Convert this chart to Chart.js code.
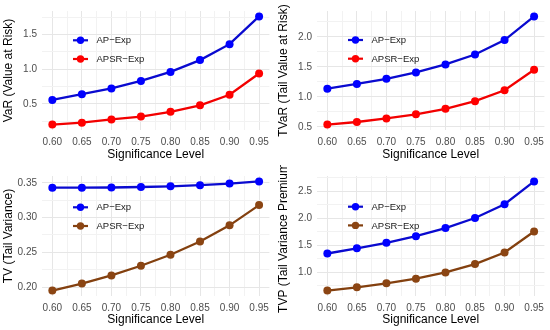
<!DOCTYPE html>
<html><head><meta charset="utf-8">
<script src="https://cdn.jsdelivr.net/npm/chart.js@4.4.0/dist/chart.umd.min.js"></script>
<style>
html,body{margin:0;padding:0;background:#fff;}
#wrap{position:relative;width:550px;height:330px;}
.p{position:absolute;width:275px;height:165px;}
canvas{display:block;}
</style></head><body>
<div id="wrap">
<div class="p" style="left:0;top:0"><canvas id="c1" width="275" height="165"></canvas></div>
<div class="p" style="left:275px;top:0"><canvas id="c2" width="275" height="165"></canvas></div>
<div class="p" style="left:0;top:165px"><canvas id="c3" width="275" height="165"></canvas></div>
<div class="p" style="left:275px;top:165px"><canvas id="c4" width="275" height="165"></canvas></div>
</div>
<script>
const levels = [0.60, 0.65, 0.70, 0.75, 0.80, 0.85, 0.90, 0.95];
const xTickLabels = ['0.60', '0.65', '0.70', '0.75', '0.80', '0.85', '0.90', '0.95'];
const seriesNames = ['AP\u2212Exp', 'APSR\u2212Exp'];

const varAP   = [0.556, 0.639, 0.722, 0.830, 0.960, 1.130, 1.360, 1.760];
const varAPSR = [0.200, 0.228, 0.274, 0.315, 0.385, 0.478, 0.630, 0.936];
const tvarAP   = [1.135, 1.215, 1.300, 1.407, 1.540, 1.705, 1.945, 2.340];
const tvarAPSR = [0.537, 0.580, 0.640, 0.708, 0.800, 0.928, 1.109, 1.450];
const tvAP   = [0.3430, 0.3430, 0.3433, 0.3440, 0.3450, 0.3467, 0.3490, 0.3520];
const tvAPSR = [0.1950, 0.2050, 0.2168, 0.2307, 0.2465, 0.2656, 0.2888, 0.3180];
const tvpAP   = [1.350, 1.446, 1.547, 1.670, 1.820, 2.005, 2.260, 2.680];
const tvpAPSR = [0.666, 0.725, 0.800, 0.886, 1.000, 1.154, 1.368, 1.755];

const varYTicks  = ['0.5', '1.0', '1.5'];
const tvarYTicks = ['0.5', '1.0', '1.5', '2.0'];
const tvYTicks   = ['0.20', '0.25', '0.30', '0.35'];
const tvpYTicks  = ['1.0', '1.5', '2.0', '2.5'];

const FONT = '"Liberation Sans", Arial, Helvetica, sans-serif';

function tickList(labels, lo, hi) {
  const maj = labels.map(Number);
  const step = maj[1] - maj[0];
  const out = [];
  const first = maj[0] - step / 2;
  for (let i = 0; i < maj.length * 2 + 1; i++) {
    const v = first + i * step / 2;
    if (v < lo - 1e-9 || v > hi + 1e-9) continue;
    const isMaj = i % 2 === 1;
    out.push({ value: v, mj: isMaj, lab: isMaj ? labels[(i - 1) / 2] : '' });
  }
  return out;
}

const ggLegend = {
  id: 'ggLegend',
  afterDraw(chart, args, opts) {
    const ctx = chart.ctx;
    chart.data.datasets.forEach((ds, i) => {
      const y = opts.y0 + i * opts.dy;
      ctx.save();
      ctx.strokeStyle = ds.borderColor; ctx.lineWidth = 2.2;
      ctx.beginPath(); ctx.moveTo(73, y); ctx.lineTo(88, y); ctx.stroke();
      ctx.fillStyle = ds.pointBackgroundColor;
      ctx.beginPath(); ctx.arc(80.5, y, 3.7, 0, Math.PI * 2); ctx.fill();
      ctx.fillStyle = '#1A1A1A';
      ctx.font = '9.5px ' + FONT;
      ctx.textBaseline = 'middle';
      ctx.fillText(ds.label, 96.5, y + 0.5);
      ctx.restore();
    });
  }
};

function makeChart(id, yTitle, ap, apsr, apsrPoint, apsrLine, yLabels, padTop, xHeight, legendY0) {
  const all = ap.concat(apsr);
  const lo = Math.min(...all), hi = Math.max(...all), r = hi - lo;
  const yMin = lo - 0.05 * r, yMax = hi + 0.05 * r;
  const xr = levels[levels.length - 1] - levels[0];
  const xMin = levels[0] - 0.05 * xr, xMax = levels[levels.length - 1] + 0.05 * xr;
  const yT = tickList(yLabels, yMin, yMax);
  const xT = tickList(xTickLabels, xMin, xMax);
  const gridColor = c => (c.tick && c.tick.mj) ? '#E6E6E6' : '#F2F2F2';
  new Chart(document.getElementById(id), {
    type: 'line',
    data: {
      datasets: [
        { label: seriesNames[0], data: levels.map((x, i) => ({ x, y: ap[i] })),
          borderColor: '#0A0ACF', pointBackgroundColor: '#0000FF', backgroundColor: '#0000FF',
          borderWidth: 2.3, pointRadius: 4, pointBorderWidth: 0, pointHoverRadius: 4, tension: 0 },
        { label: seriesNames[1], data: levels.map((x, i) => ({ x, y: apsr[i] })),
          borderColor: apsrLine, pointBackgroundColor: apsrPoint, backgroundColor: apsrPoint,
          borderWidth: 2.3, pointRadius: 4, pointBorderWidth: 0, pointHoverRadius: 4, tension: 0 }
      ]
    },
    options: {
      responsive: false, animation: false, devicePixelRatio: 1,
      layout: { padding: { top: padTop, right: 2, left: 0, bottom: 0 } },
      plugins: { legend: { display: false }, tooltip: { enabled: false },
        ggLegend: { y0: legendY0, dy: 18.7 } },
      scales: {
        x: {
          type: 'linear', min: xMin, max: xMax,
          afterBuildTicks: s => { s.ticks = xT.map(t => ({ ...t })); },
          afterFit: s => { s.height = xHeight; },
          border: { display: false },
          grid: { drawTicks: false, color: gridColor, lineWidth: 1 },
          ticks: { autoSkip: false, maxRotation: 0, padding: 6, color: '#4D4D4D',
            font: { family: FONT, size: 10 },
            callback: (v, i, ticks) => ticks[i].lab },
          title: { display: true, text: 'Significance Level', color: '#000',
            font: { family: FONT, size: 12 }, padding: { top: 2, bottom: 3 } }
        },
        y: {
          type: 'linear', min: yMin, max: yMax,
          afterBuildTicks: s => { s.ticks = yT.map(t => ({ ...t })); },
          afterFit: s => { s.width = 42; },
          border: { display: false },
          grid: { drawTicks: false, color: gridColor, lineWidth: 1 },
          ticks: { autoSkip: false, padding: 5, color: '#4D4D4D',
            font: { family: FONT, size: 10 },
            callback: (v, i, ticks) => ticks[i].lab },
          title: { display: true, text: yTitle, color: '#000',
            font: { family: FONT, size: 12 }, padding: { top: 1, bottom: 0 } }
        }
      }
    },
    plugins: [ggLegend]
  });
}

makeChart('c1', 'VaR (Value at Risk)', varAP, varAPSR, '#FF0000', '#F20000', varYTicks, 6, 35, 40.3);
makeChart('c2', 'TVaR (Tail Value at Risk)', tvarAP, tvarAPSR, '#FF0000', '#F20000', tvarYTicks, 6, 35, 40);
makeChart('c3', 'TV (Tail Variance)', tvAP, tvAPSR, '#8B4513', '#83400F', tvYTicks, 8, 34, 42.3);
makeChart('c4', 'TVP (Tail Variance Premium)', tvpAP, tvpAPSR, '#8B4513', '#83400F', tvpYTicks, 8, 34, 41.7);
</script>
</body></html>
